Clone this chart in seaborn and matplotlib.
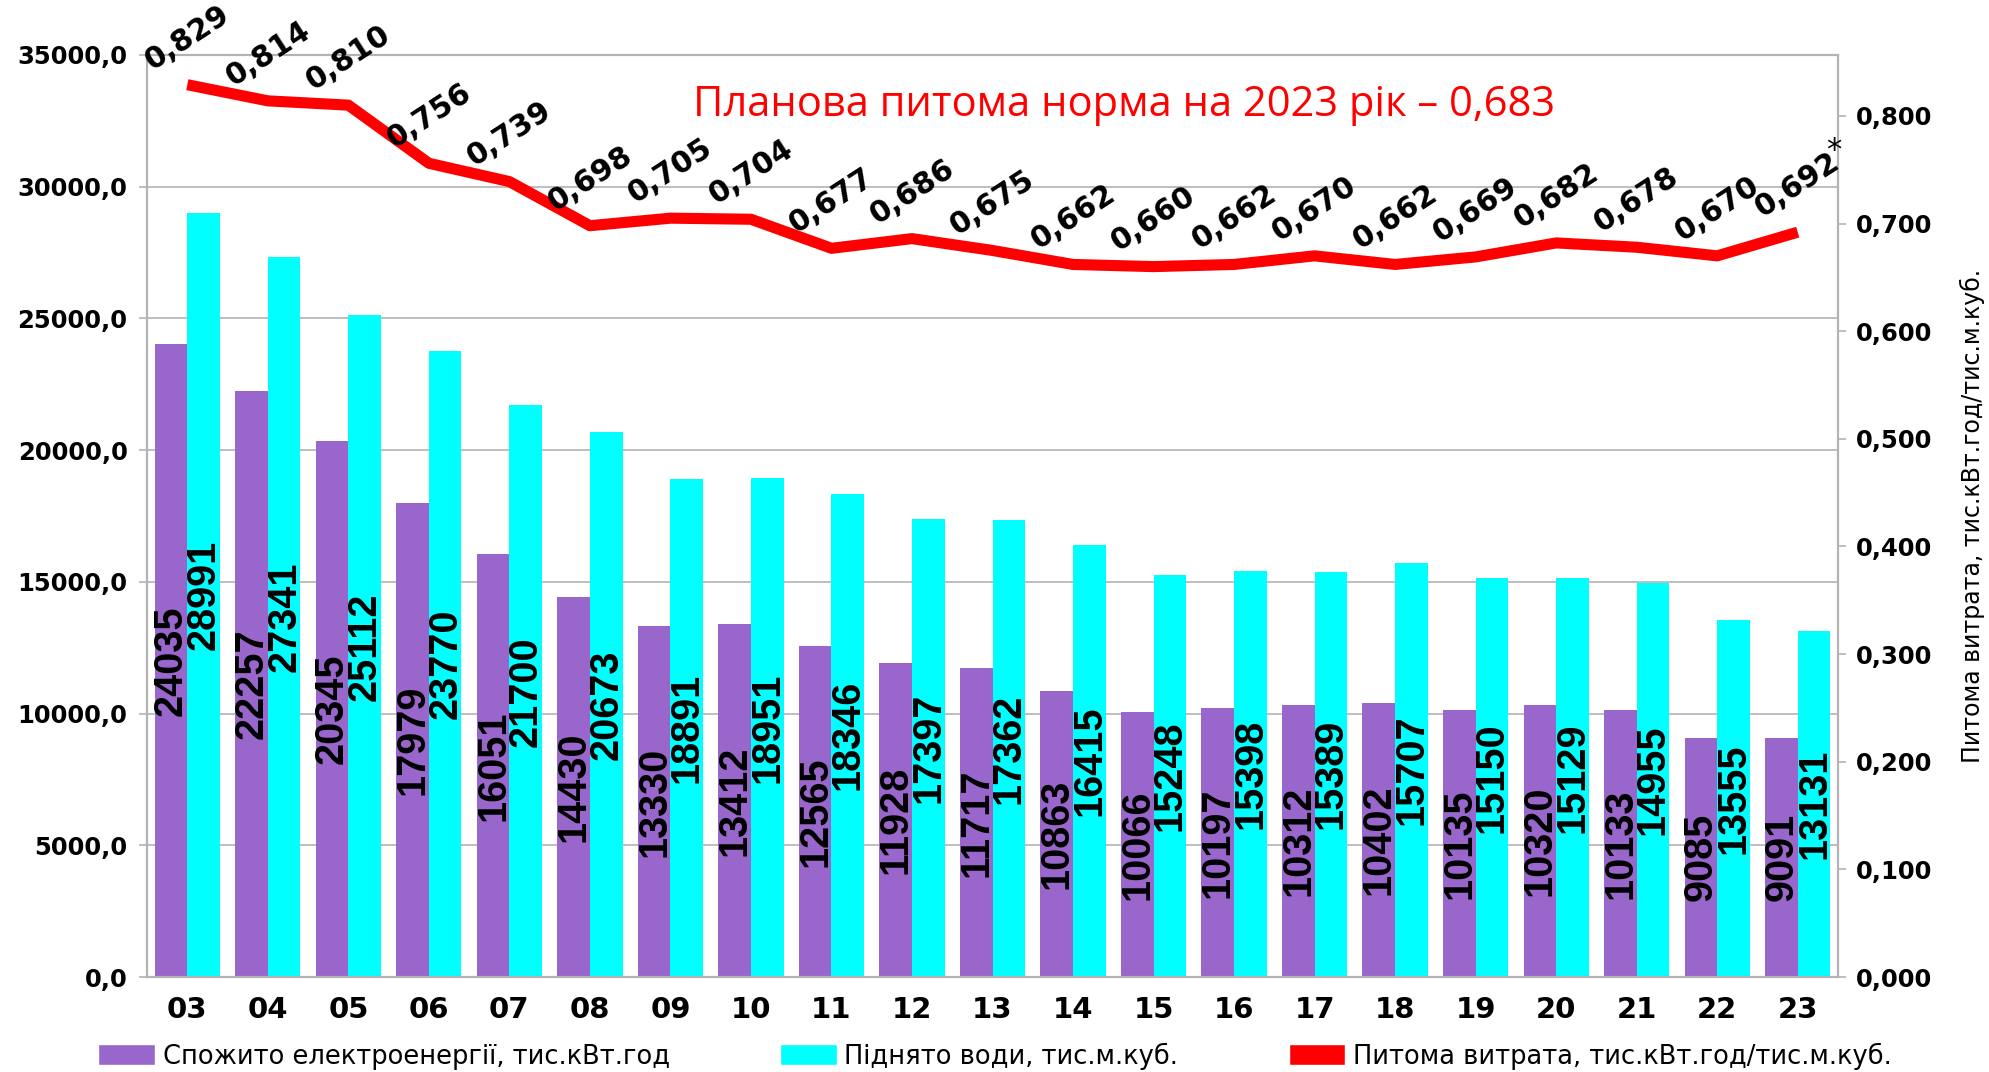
"""
Electricity use vs. pumped water, 2003-2023, with specific consumption line.
"""
import matplotlib
matplotlib.use("Agg")
import matplotlib.pyplot as plt
from matplotlib.patches import Patch
from matplotlib.ticker import FuncFormatter, FixedLocator
import numpy as np
import pandas as pd
import seaborn as sns

years = ['03', '04', '05', '06', '07', '08', '09', '10', '11', '12', '13',
         '14', '15', '16', '17', '18', '19', '20', '21', '22', '23']
electricity = [24035, 22257, 20345, 17979, 16051, 14430, 13330, 13412, 12565, 11928, 11717,
               10863, 10066, 10197, 10312, 10402, 10135, 10320, 10133, 9085, 9091]
water = [28991, 27341, 25112, 23770, 21700, 20673, 18891, 18951, 18346, 17397, 17362,
         16415, 15248, 15398, 15389, 15707, 15150, 15129, 14955, 13555, 13131]
rate = [0.829, 0.814, 0.810, 0.756, 0.739, 0.698, 0.705, 0.704, 0.677, 0.686, 0.675,
        0.662, 0.660, 0.662, 0.670, 0.662, 0.669, 0.682, 0.678, 0.670, 0.692]

name_el = 'Спожито електроенергії, тис.кВт.год'
name_wt = 'Піднято води, тис.м.куб.'
name_rate = 'Питома витрата, тис.кВт.год/тис.м.куб.'
title = 'Планова питома норма на 2023 рік – 0,683'

PURPLE = '#9966cc'
CYAN = '#00ffff'
RED = '#ff0000'
GRID = '#b3b3b3'

sns.set_style('white')
plt.rcParams['font.family'] = ['DejaVu Sans']
plt.rcParams['text.color'] = 'black'
plt.rcParams['xtick.color'] = 'black'
plt.rcParams['ytick.color'] = 'black'
plt.rcParams['axes.labelcolor'] = 'black'

df = pd.DataFrame({
    'year': years * 2,
    'value': electricity + water,
    'series': [name_el] * len(years) + [name_wt] * len(years),
})

fig = plt.figure(figsize=(19.9, 10.72), dpi=100)
ax = fig.add_axes([0.0739, 0.0886, 0.8497, 0.8601])

sns.barplot(data=df, x='year', y='value', hue='series', order=years,
            hue_order=[name_el, name_wt], palette=[PURPLE, CYAN],
            saturation=1, width=0.81, linewidth=0, errorbar=None,
            legend=False, ax=ax)

# values written vertically in the middle of each bar
for cont in ax.containers:
    ax.bar_label(cont, label_type='center', rotation=90, fmt='%d',
                 fontsize=28.5, fontweight='bold', color='black',
                 family=['Liberation Sans', 'DejaVu Sans'])

ax.set_xlim(-0.5, len(years) - 0.5)
ax.set_ylim(0, 35000)
ax.yaxis.set_major_locator(FixedLocator(np.arange(0, 35001, 5000)))
ax.yaxis.set_major_formatter(FuncFormatter(lambda v, p: f'{v:.1f}'.replace('.', ',')))
ax.set_axisbelow(True)
ax.grid(axis='y', color=GRID, linewidth=1.2)
ax.set_xlabel('')
ax.set_ylabel('')

ax.tick_params(axis='y', which='major', length=6, width=1.2, color=GRID,
               labelcolor='black', pad=8, labelsize=17.5)
ax.tick_params(axis='x', which='major', length=0, pad=14, labelsize=21,
               labelcolor='black')
ax.set_xticks(np.arange(-0.5, len(years), 1.0), minor=True)
ax.tick_params(axis='x', which='minor', length=8, width=1.2, color=GRID)
for lab in ax.get_xticklabels() + ax.get_yticklabels():
    lab.set_fontweight('bold')

ax2 = ax.twinx()
sns.lineplot(x=np.arange(len(years)), y=rate, ax=ax2, color=RED,
             linewidth=8, solid_joinstyle='round', solid_capstyle='butt')
ax2.set_ylim(0, 0.8566)
ax2.yaxis.set_major_locator(FixedLocator(np.arange(0, 0.81, 0.1)))
ax2.yaxis.set_major_formatter(FuncFormatter(lambda v, p: f'{v:.3f}'.replace('.', ',')))
ax2.tick_params(axis='y', length=6, width=1.2, color=GRID, labelcolor='black',
                pad=7, labelsize=17.5)
for lab in ax2.get_yticklabels():
    lab.set_fontweight('bold')
ax2.set_ylabel(name_rate, fontsize=17, labelpad=20, color='black')

for i, r in enumerate(rate):
    ax2.annotate(f'{r:.3f}'.replace('.', ','), (i, r), xytext=(0, 34),
                 textcoords='offset points', ha='center', va='center',
                 rotation=33, rotation_mode='anchor', fontsize=21.5,
                 fontweight='bold', color='black', annotation_clip=False)
ax2.annotate('*', (len(years) - 1, rate[-1]), xytext=(26, 59),
             textcoords='offset points', ha='center', va='center',
             fontsize=22, color='black', annotation_clip=False)

for a in (ax, ax2):
    for s in a.spines.values():
        s.set_color(GRID)
        s.set_linewidth(1.5)

fig.text(0.565, 0.902, title, color=RED, fontsize=30, family=['Open Sans'],
         ha='center', va='center')

handles = [Patch(facecolor=PURPLE), Patch(facecolor=CYAN), Patch(facecolor=RED)]
fig.legend(handles, [name_el, name_wt, name_rate], loc='center',
           bbox_to_anchor=(0.5, 0.015), ncol=3, frameon=False, fontsize=18.5,
           handlelength=2.2, handleheight=0.9, handletextpad=0.3,
           columnspacing=4.3, borderaxespad=0)

fig.savefig('out.png', dpi=100)
